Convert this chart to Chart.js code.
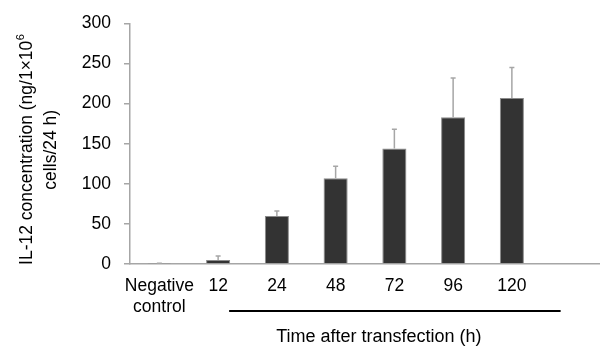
<!DOCTYPE html>
<html>
<head>
<meta charset="utf-8">
<script src="https://cdn.jsdelivr.net/npm/chart.js@4"></script>
<style>
  body { margin: 0; background: #fff; }
  #wrap { width: 600px; height: 348px; }
</style>
</head>
<body>
<div id="wrap"><canvas id="myChart"></canvas></div>
<script>
// datos
const categorias = [['Negative', 'control'], '12', '24', '48', '72', '96', '120', ''];
const valores = [0.5, 5, 60, 107, 144, 183, 207, null];
const errores = [0.5, 5, 6, 15, 24, 49, 38, null];
const ticksY = [0, 50, 100, 150, 200, 250, 300];

const fuente = 'Liberation Sans, Arial, sans-serif';
const gris = '#a6a6a6';

// barras de error (solo hacia arriba)
const errorBars = {
    id: 'errorBars',
    afterDatasetsDraw(chart) {
        const ctx = chart.ctx;
        const meta = chart.getDatasetMeta(0);
        const y = chart.scales.y;
        ctx.save();
        ctx.strokeStyle = gris;
        ctx.lineWidth = 1.5;
        meta.data.forEach((bar, i) => {
            if (valores[i] == null) return;
            const top = y.getPixelForValue(valores[i] + errores[i]);
            ctx.beginPath();
            ctx.moveTo(bar.x, bar.y);
            ctx.lineTo(bar.x, top);
            ctx.moveTo(bar.x - 2.5, top);
            ctx.lineTo(bar.x + 2.5, top);
            ctx.stroke();
        });
        ctx.restore();
    }
};

// titulos de ejes y linea bajo las horas
const titulos = {
    id: 'titulos',
    afterDraw(chart) {
        const ctx = chart.ctx;
        const x = chart.scales.x;
        const area = chart.chartArea;
        ctx.save();
        ctx.fillStyle = '#000';

        // linea
        const x1 = x.getPixelForValue(1) + 11;
        const x2 = x.getPixelForValue(7) - 10;
        ctx.strokeStyle = '#000';
        ctx.lineWidth = 2;
        ctx.beginPath();
        ctx.moveTo(x1, 311);
        ctx.lineTo(x2, 311);
        ctx.stroke();

        ctx.font = '18px ' + fuente;
        ctx.textAlign = 'center';
        ctx.textBaseline = 'middle';
        ctx.fillText('Time after transfection (h)', (x1 + x2) / 2 - 16, 337);

        // titulo eje y, rotado
        ctx.translate(0, (area.top + area.bottom) / 2 + 6);
        ctx.rotate(-Math.PI / 2);
        ctx.font = '17.5px ' + fuente;
        const linea1 = 'IL-12 concentration (ng/1×10';
        const w1 = ctx.measureText(linea1).width;
        ctx.font = '11px ' + fuente;
        const wSup = ctx.measureText('6').width;
        ctx.font = '17.5px ' + fuente;
        const inicio = -(w1 + wSup) / 2;
        ctx.textAlign = 'left';
        ctx.fillText(linea1, inicio, 27);
        ctx.font = '11px ' + fuente;
        ctx.fillText('6', inicio + w1 + 0.5, 21);
        ctx.font = '17.5px ' + fuente;
        ctx.textAlign = 'center';
        ctx.fillText('cells/24 h)', 0, 51);
        ctx.restore();
    }
};

const grafica = new Chart(document.getElementById('myChart').getContext('2d'), {
    type: 'bar',
    data: {
        labels: categorias,
        datasets: [{
            data: valores,
            backgroundColor: '#333333',
            borderColor: '#8a8a8a',
            borderWidth: 1,
            barPercentage: 0.41,
            categoryPercentage: 1
        }]
    },
    options: {
        responsive: true,
        maintainAspectRatio: false,
        animation: false,
        layout: { padding: { top: 19, right: 0, left: 0, bottom: 0 } },
        plugins: {
            legend: { display: false },
            tooltip: { enabled: false }
        },
        scales: {
            x: {
                grid: { display: false },
                border: { display: true, color: gris, width: 1.5 },
                ticks: {
                    color: '#000',
                    font: { family: fuente, size: 17.5 },
                    maxRotation: 0,
                    autoSkip: false,
                    padding: 4
                },
                afterFit: s => { s.height = 84; }
            },
            y: {
                min: 0,
                max: 300,
                afterBuildTicks: s => { s.ticks = ticksY.map(v => ({ value: v })); },
                grid: { drawOnChartArea: false, color: gris, tickLength: 6, lineWidth: 1.5 },
                border: { display: true, color: gris, width: 1.5 },
                ticks: {
                    color: '#000',
                    font: { family: fuente, size: 17.5 },
                    padding: 13
                },
                afterFit: s => { s.width = 130; }
            }
        }
    },
    plugins: [errorBars, titulos]
});
</script>
</body>
</html>
